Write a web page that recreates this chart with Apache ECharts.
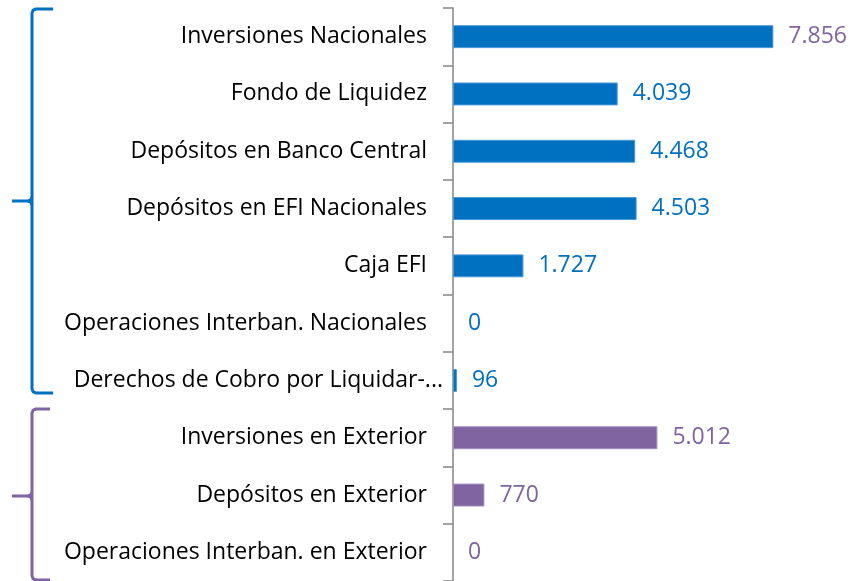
<!DOCTYPE html>
<html>
<head>
<meta charset="utf-8">
<script src="https://cdn.jsdelivr.net/npm/echarts@6/dist/echarts.min.js"></script>
<style>html,body{margin:0;padding:0;background:#fff;}#c{width:854px;height:581px;}</style>
</head>
<body>
<div id="c"></div>
<script>
const categories = [
  'Inversiones Nacionales',
  'Fondo de Liquidez',
  'Depósitos en Banco Central',
  'Depósitos en EFI Nacionales',
  'Caja EFI',
  'Operaciones Interban. Nacionales',
  'Derechos de Cobro por Liquidar-...',
  'Inversiones en Exterior',
  'Depósitos en Exterior',
  'Operaciones Interban. en Exterior'
];
const values = [7856, 4039, 4468, 4503, 1727, 0, 96, 5012, 770, 0];
const groups = ['nac','nac','nac','nac','nac','nac','nac','ext','ext','ext'];
const labelGroups = ['ext','nac','nac','nac','nac','nac','nac','ext','ext','ext'];

const BLUE = '#0070C0', PURPLE = '#8064A2';
const colorOf = g => g === 'nac' ? BLUE : PURPLE;
const borderOf = g => g === 'nac' ? '#4a98d6' : '#a08cc0';
const FONT = 'Open Sans';
const FS = 23;

function fmt(v){ return String(v).replace(/\B(?=(\d{3})+(?!\d))/g, '.'); }

function brace(x, top, mid, bot, endX, tipX, color){
  const r = 4;
  return [
    { type: 'polyline', silent: true,
      shape: { points: [[endX, top], [x + r, top], [x + 1.2, top + 1.2], [x, top + r], [x, bot - r], [x + 1.2, bot - 1.2], [x + r, bot], [endX, bot]] },
      style: { fill: null, stroke: color, lineWidth: 3, lineJoin: 'round' } },
    { type: 'polyline', silent: true,
      shape: { points: [[tipX, mid], [x - r, mid], [x - 1.2, mid - 1.2], [x, mid - r]] },
      style: { fill: null, stroke: color, lineWidth: 3, lineJoin: 'round' } },
    { type: 'polyline', silent: true,
      shape: { points: [[x - r, mid], [x - 1.2, mid + 1.2], [x, mid + r]] },
      style: { fill: null, stroke: color, lineWidth: 3, lineJoin: 'round' } }
  ];
}

const chart = echarts.init(document.getElementById('c'));
chart.setOption({
  animation: false,
  grid: { left: 453, top: 8, right: 34, bottom: -1, containLabel: false },
  xAxis: { type: 'value', min: 0, max: 9000, show: false },
  yAxis: {
    type: 'category', inverse: true, data: categories,
    axisLine: { show: true, lineStyle: { color: '#868686', width: 1.5 } },
    axisTick: { show: true, length: 10, lineStyle: { color: '#868686', width: 1.5 } },
    axisLabel: {
      margin: 10, color: '#000', fontFamily: FONT, fontSize: FS, interval: 0,
      formatter: (v, i) => i === 6 ? '{t|' + v + '}' : '{p|' + v + '}',
      rich: {
        p: { padding: [0, 16, 0, 0], fontFamily: FONT, fontSize: FS, color: '#000' },
        t: { fontFamily: FONT, fontSize: FS, color: '#000' }
      }
    }
  },
  series: [{
    type: 'bar', barWidth: '40%',
    data: values.map((v, i) => ({
      value: v,
      itemStyle: { color: colorOf(groups[i]), borderColor: borderOf(groups[i]), borderWidth: v > 0 ? 1 : 0 },
      label: { color: colorOf(labelGroups[i]) }
    })),
    label: { show: true, position: 'right', distance: 15, fontFamily: FONT, fontSize: FS,
      formatter: p => fmt(p.value) }
  }],
  graphic: [].concat(
    brace(32, 9, 201, 393, 53, 12, BLUE),
    brace(32, 409, 496, 580, 50, 12, PURPLE)
  )
});
</script>
</body>
</html>
